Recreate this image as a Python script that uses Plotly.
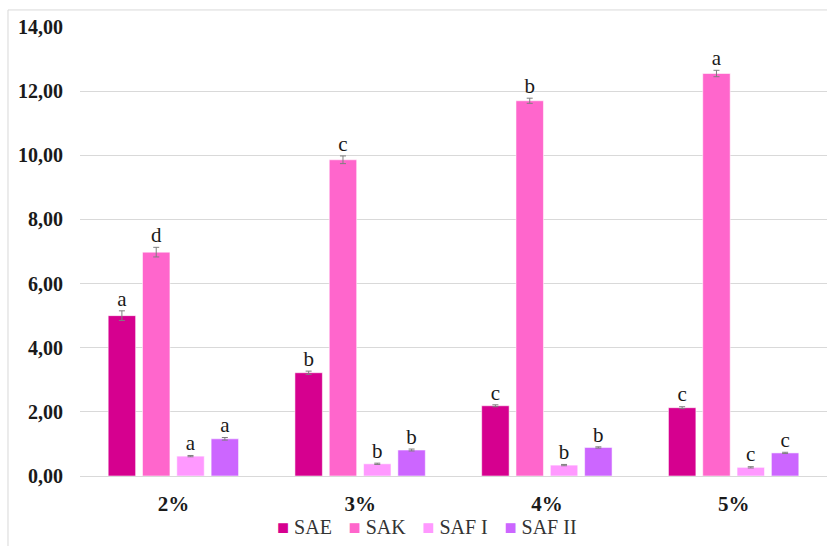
import plotly.graph_objects as go

categories = ["2%", "3%", "4%", "5%"]
series_names = ["SAE", "SAK", "SAF I", "SAF II"]
colors = ["#D6008F", "#FF66CC", "#FF99FF", "#CC66FF"]

sae = [5.00, 3.22, 2.19, 2.13]
sak = [6.98, 9.86, 11.70, 12.55]
saf1 = [0.62, 0.38, 0.34, 0.27]
saf2 = [1.16, 0.81, 0.89, 0.72]

sae_err = [0.15, 0.05, 0.03, 0.03]
sak_err = [0.15, 0.12, 0.08, 0.10]
saf1_err = [0.02, 0.02, 0.02, 0.02]
saf2_err = [0.04, 0.03, 0.02, 0.02]

sae_letters = ["a", "b", "c", "c"]
sak_letters = ["d", "c", "b", "a"]
saf1_letters = ["a", "b", "b", "c"]
saf2_letters = ["a", "b", "b", "c"]

values = [sae, sak, saf1, saf2]
errors = [sae_err, sak_err, saf1_err, saf2_err]
letters = [sae_letters, sak_letters, saf1_letters, saf2_letters]

serif = "Liberation Serif"

fig = go.Figure()

for i, name in enumerate(series_names):
    fig.add_trace(go.Bar(
        x=categories, y=values[i], name=name,
        offsetgroup=str(i),
        marker=dict(color=colors[i], line=dict(color="rgba(255,255,255,0.55)", width=1)),
        error_y=dict(type="data", array=errors[i], visible=True,
                     color="#7F7F7F", thickness=1, width=3),
        showlegend=False, hoverinfo="skip",
    ))

# significance letters placed just above each error bar
for i, name in enumerate(series_names):
    fig.add_trace(go.Scatter(
        x=categories,
        y=[v + e for v, e in zip(values[i], errors[i])],
        offsetgroup=str(i),
        mode="text", text=letters[i], textposition="top center",
        textfont=dict(family=serif, size=21, color="#1a1a1a"),
        showlegend=False, hoverinfo="skip",
    ))

# compact legend row: coloured square followed by the series name
legend_html = "\u2002\u2004".join(
    f"<span style='color:{c}'>\u25A0</span> {n}" for c, n in zip(colors, series_names)
)

fig.update_layout(
    width=827, height=546,
    margin=dict(l=80, r=0, t=27, b=70, autoexpand=False),
    paper_bgcolor="white", plot_bgcolor="white",
    barmode="group", scattermode="group",
    bargap=0.265, bargroupgap=0.2,
    separators=",.",
    font=dict(family=serif, color="#1a1a1a"),
    showlegend=False,
    xaxis=dict(showgrid=False, showline=True, linecolor="#D9D9D9", linewidth=1,
               automargin=False,
               ticks="", tickfont=dict(family=serif, size=21, color="#1a1a1a", weight="bold"),
               ticklabelstandoff=9),
    yaxis=dict(range=[0, 14], dtick=2, tickformat=".2f", showgrid=True,
               automargin=False,
               gridcolor="#D9D9D9", gridwidth=1, zeroline=False, showline=False,
               ticks="", tickfont=dict(family=serif, size=20, color="#1a1a1a", weight="bold"),
               ticklabelstandoff=16),
    annotations=[dict(text=legend_html, xref="paper", yref="paper",
                      x=0.464, y=-0.114, xanchor="center", yanchor="middle",
                      showarrow=False,
                      font=dict(family=serif, size=20, color="#333333"))],
    shapes=[dict(type="rect", xref="paper", yref="paper",
                 x0=-0.0964, x1=1.02, y0=-0.3, y1=1.038,
                 line=dict(color="#D9D9D9", width=1), fillcolor="rgba(0,0,0,0)",
                 layer="below")],
)

fig.write_html("out.html")
